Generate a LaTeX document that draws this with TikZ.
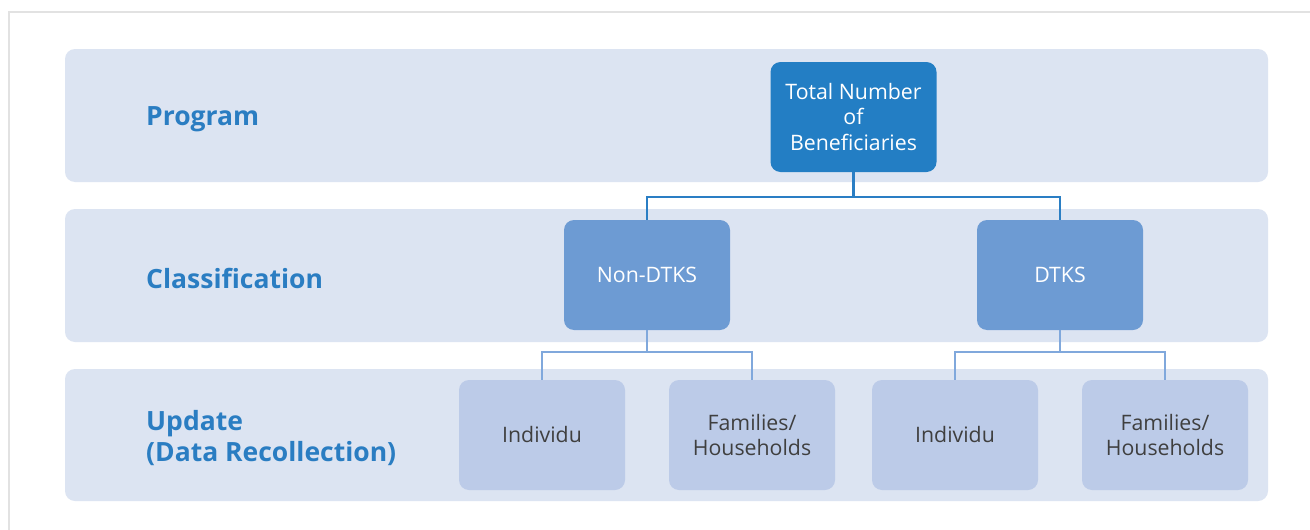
\documentclass[tikz,border=0pt]{standalone}
\usepackage{fontspec}
\setmainfont{Open Sans}
\definecolor{band}{HTML}{DCE4F2}
\definecolor{topbox}{HTML}{237EC4}
\definecolor{midbox}{HTML}{6D9BD3}
\definecolor{lowbox}{HTML}{BCCBE8}
\definecolor{topline}{HTML}{2A7EC4}
\definecolor{lowline}{HTML}{80A8DC}
\definecolor{labelc}{HTML}{2A7DC2}
\definecolor{frame}{HTML}{E2E2E2}
\definecolor{darktext}{HTML}{3F3F3F}
\tikzset{
  bandbox/.style={fill=band, draw=none, rounded corners=10pt},
  box/.style={draw=none, rounded corners=10pt, minimum width=166pt, minimum height=110pt, align=center, font=\fontsize{21.3}{25.5}\selectfont, inner sep=0pt},
  topb/.style={box, fill=topbox, text=white},
  midb/.style={box, fill=midbox, text=white},
  lowb/.style={box, fill=lowbox, text=darktext},
  lvl/.style={anchor=west, align=left, text=labelc, font=\fontsize{26.5}{31.5}\selectfont\bfseries, inner sep=0pt},
  conn1/.style={draw=topline, line width=2.2pt},
  conn2/.style={draw=lowline, line width=2.2pt},
}
\begin{document}
\begin{tikzpicture}[x=1pt,y=-1pt]
\useasboundingbox (0,0) rectangle (1310,530);
\fill[white] (0,0) rectangle (1310,530);
\draw[frame, line width=2.5pt] (1310,12) -- (9,12) -- (9,530);
% bands
\fill[bandbox] (65,49) rectangle (1268,182);
\fill[bandbox] (65,209) rectangle (1268,342);
\fill[bandbox] (65,369) rectangle (1268,501);
% labels
\node[lvl] (lp) at (146,119) {Program};
\node[lvl] (lc) at (146,278) {Classification};
\node[lvl] (lu) at (146,438) {Update\\(Data Recollection)};
% boxes
\node[topb] (top) at (853.5,117) {Total Number\\of\\Beneficiaries};
\node[midb] (non) at (647,275) {Non-DTKS};
\node[midb] (dtks) at (1060,275) {DTKS};
\node[lowb] (i1) at (542,435) {Individu};
\node[lowb] (f1) at (752,435) {Families/\\Households};
\node[lowb] (i2) at (955,435) {Individu};
\node[lowb] (f2) at (1165,435) {Families/\\Households};
% connectors
\draw[conn1] (top.south) -- ++(0,25) coordinate (j1) -| (non.north);
\draw[conn1] (j1) -| (dtks.north);
\draw[conn2] (non.south) -- ++(0,22) coordinate (j2) -| (i1.north);
\draw[conn2] (j2) -| (f1.north);
\draw[conn2] (dtks.south) -- ++(0,22) coordinate (j3) -| (i2.north);
\draw[conn2] (j3) -| (f2.north);
\end{tikzpicture}
\end{document}
